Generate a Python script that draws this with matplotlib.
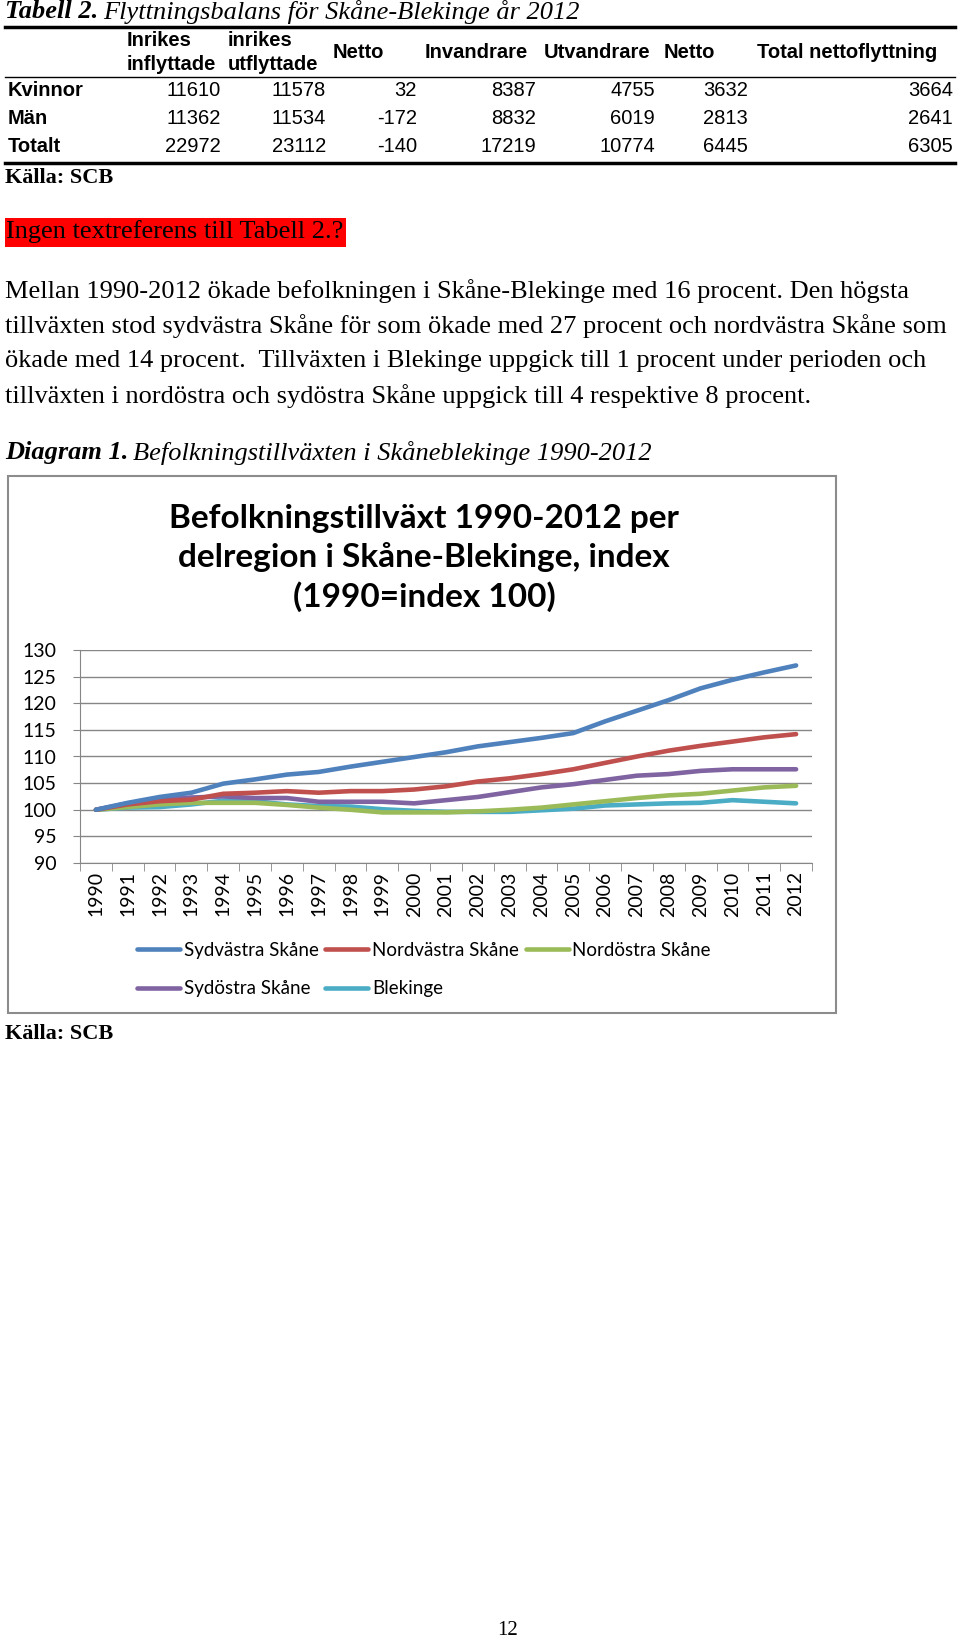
import numpy as np
import matplotlib.pyplot as plt
from matplotlib.lines import Line2D
from matplotlib.patches import Rectangle

W, H = 960, 1642

# table data
row_names = ['Kvinnor', 'Män', 'Totalt']
col_heads = [('Inrikes', 'inflyttade'), ('inrikes', 'utflyttade'), ('Netto', None),
             ('Invandrare', None), ('Utvandrare', None), ('Netto', None),
             ('Total nettoflyttning', None)]
kvinnor = [11610, 11578, 32, 8387, 4755, 3632, 3664]
man = [11362, 11534, -172, 8832, 6019, 2813, 2641]
totalt = [22972, 23112, -140, 17219, 10774, 6445, 6305]

# chart data (index 1990 = 100)
years = [str(y) for y in range(1990, 2013)]
sydvastra = [100, 101.3, 102.4, 103.2, 104.9, 105.7, 106.6, 107.1, 108.1, 109.0, 109.9, 110.8,
             111.9, 112.7, 113.5, 114.4, 116.6, 118.6, 120.6, 122.8, 124.4, 125.8, 127.1]
nordvastra = [100, 101.0, 101.6, 101.9, 103.0, 103.2, 103.5, 103.2, 103.5, 103.5, 103.8, 104.4,
              105.3, 105.9, 106.7, 107.6, 108.8, 110.0, 111.1, 112.0, 112.8, 113.6, 114.2]
nordostra = [100, 100.5, 101.0, 101.3, 101.3, 101.3, 100.9, 100.4, 100.0, 99.5, 99.5, 99.5,
             99.7, 100.0, 100.4, 101.0, 101.6, 102.2, 102.7, 103.0, 103.6, 104.2, 104.5]
sydostra = [100, 101.2, 101.9, 102.3, 102.5, 102.2, 102.2, 101.5, 101.5, 101.5, 101.2, 101.8,
            102.4, 103.3, 104.2, 104.8, 105.6, 106.4, 106.7, 107.3, 107.6, 107.6, 107.6]
blekinge = [100, 100.4, 100.5, 101.0, 101.7, 101.6, 101.0, 100.7, 100.6, 100.1, 99.8, 99.6,
            99.6, 99.6, 99.9, 100.2, 100.8, 101.0, 101.2, 101.3, 101.8, 101.5, 101.2]

fig = plt.figure(figsize=(W / 100, H / 100), dpi=100)
fig.patch.set_facecolor('white')

def fx(x):
    return x / W

def fy(y):
    return 1 - y / H

def hline(y, x0, x1, lw):
    fig.add_artist(Line2D([fx(x0), fx(x1)], [fy(y), fy(y)], color='black', lw=lw))

serif = 'Liberation Serif'
sans = 'Liberation Sans'
chartfont = 'Lato'

r = fig.canvas.get_renderer()

def two_part(x, y, bold_txt, rest, size):
    t = fig.text(fx(x), fy(y), bold_txt, family=serif, style='italic', weight='bold',
                 size=size, va='center')
    bb = t.get_window_extent(renderer=r)
    fig.text(fx(x + bb.width + 5), fy(y), rest, family=serif, style='italic',
             size=size, va='center')

# table
two_part(5, 12, 'Tabell 2.', 'Flyttningsbalans för Skåne-Blekinge år 2012', 19)
hline(27, 5, 955, 2.5)
head_x = [127, 228, 333, 425, 544, 664, 757]
for hx, (a, b) in zip(head_x, col_heads):
    if b is None:
        fig.text(fx(hx), fy(52), a, family=sans, weight='bold', size=14.5, va='center')
    else:
        fig.text(fx(hx), fy(40), a, family=sans, weight='bold', size=14.5, va='center')
        fig.text(fx(hx), fy(64), b, family=sans, weight='bold', size=14.5, va='center')
hline(77, 5, 955, 1)
num_right = [221, 326, 417, 536, 655, 748, 953]
for ry, name, vals in zip([91, 119, 147], row_names, [kvinnor, man, totalt]):
    fig.text(fx(8), fy(ry), name, family=sans, weight='bold', size=14.5, va='center')
    for xr, v in zip(num_right, vals):
        fig.text(fx(xr), fy(ry), str(v), family=sans, size=14.5, va='center', ha='right')
hline(163, 5, 955, 2.5)
fig.text(fx(5), fy(178), 'Källa: SCB', family=serif, weight='bold', size=16, va='center')

# red note
fig.add_artist(Rectangle((fx(5), fy(247)), fx(341), 29 / H, color='#ff0000', lw=0))
fig.text(fx(6), fy(232), 'Ingen textreferens till Tabell 2.?', family=serif, size=19, va='center')

para = ['Mellan 1990-2012 ökade befolkningen i Skåne-Blekinge med 16 procent. Den högsta',
        'tillväxten stod sydvästra Skåne för som ökade med 27 procent och nordvästra Skåne som',
        'ökade med 14 procent.  Tillväxten i Blekinge uppgick till 1 procent under perioden och',
        'tillväxten i nordöstra och sydöstra Skåne uppgick till 4 respektive 8 procent.']
for i, line in enumerate(para):
    fig.text(fx(5), fy(291 + 35 * i), line, family=serif, size=19, va='center')

two_part(5, 453, 'Diagram 1.', 'Befolkningstillväxten i Skåneblekinge 1990-2012', 19)

# chart frame
fig.add_artist(Rectangle((fx(8), fy(1013)), fx(828), (1013 - 476) / H, fill=False,
                         edgecolor='#8c8c8c', lw=1.5))
fig.text(fx(424), fy(558), 'Befolkningstillväxt 1990-2012 per\ndelregion i Skåne-Blekinge, index\n(1990=index 100)',
         family=chartfont, weight='bold', size=24, ha='center', va='center', linespacing=1.35)

ax = fig.add_axes([fx(80), fy(863), fx(812 - 80), (863 - 650) / H])
x = np.arange(len(years))
series = [('Sydvästra Skåne', sydvastra, '#4F81BD'),
          ('Nordvästra Skåne', nordvastra, '#C0504D'),
          ('Nordöstra Skåne', nordostra, '#9BBB59'),
          ('Sydöstra Skåne', sydostra, '#8064A2'),
          ('Blekinge', blekinge, '#4BACC6')]
handles = {}
for name, vals, c in reversed(series):
    handles[name], = ax.plot(x, vals, color=c, lw=3.3, label=name, solid_capstyle='round')

ax.set_xlim(-0.5, len(years) - 0.5)
ax.set_ylim(90, 130)
ax.set_yticks(np.arange(90, 131, 5))
ax.yaxis.grid(True, color='#868686', lw=1)
ax.set_axisbelow(True)
for s in ['top', 'right']:
    ax.spines[s].set_visible(False)
for s in ['left', 'bottom']:
    ax.spines[s].set_color('#868686')
ax.set_xticks(x)
ax.set_xticklabels(years, rotation=90, family=chartfont, size=14)
ax.tick_params(axis='x', length=0, pad=6)
ax.set_xticks(np.arange(-0.5, len(years), 1), minor=True)
ax.tick_params(axis='x', which='minor', length=6, color='#868686')
ax.tick_params(axis='y', length=5, color='#868686', labelsize=14, pad=12)
for lab in ax.get_yticklabels():
    lab.set_family(chartfont)

order = ['Sydvästra Skåne', 'Sydöstra Skåne', 'Nordvästra Skåne', 'Blekinge', 'Nordöstra Skåne']
leg = fig.legend([handles[n] for n in order], order, ncol=3, frameon=False,
                 loc='upper left', bbox_to_anchor=(fx(120), fy(925)),
                 prop={'family': chartfont, 'size': 13.5}, handlelength=2.3,
                 handletextpad=0.2, columnspacing=0.35, labelspacing=1.15)

fig.text(fx(5), fy(1034), 'Källa: SCB', family=serif, weight='bold', size=16, va='center')
fig.text(fx(508), fy(1630), '12', family=serif, size=15, ha='center', va='center')

fig.savefig('out.png', dpi=100)
